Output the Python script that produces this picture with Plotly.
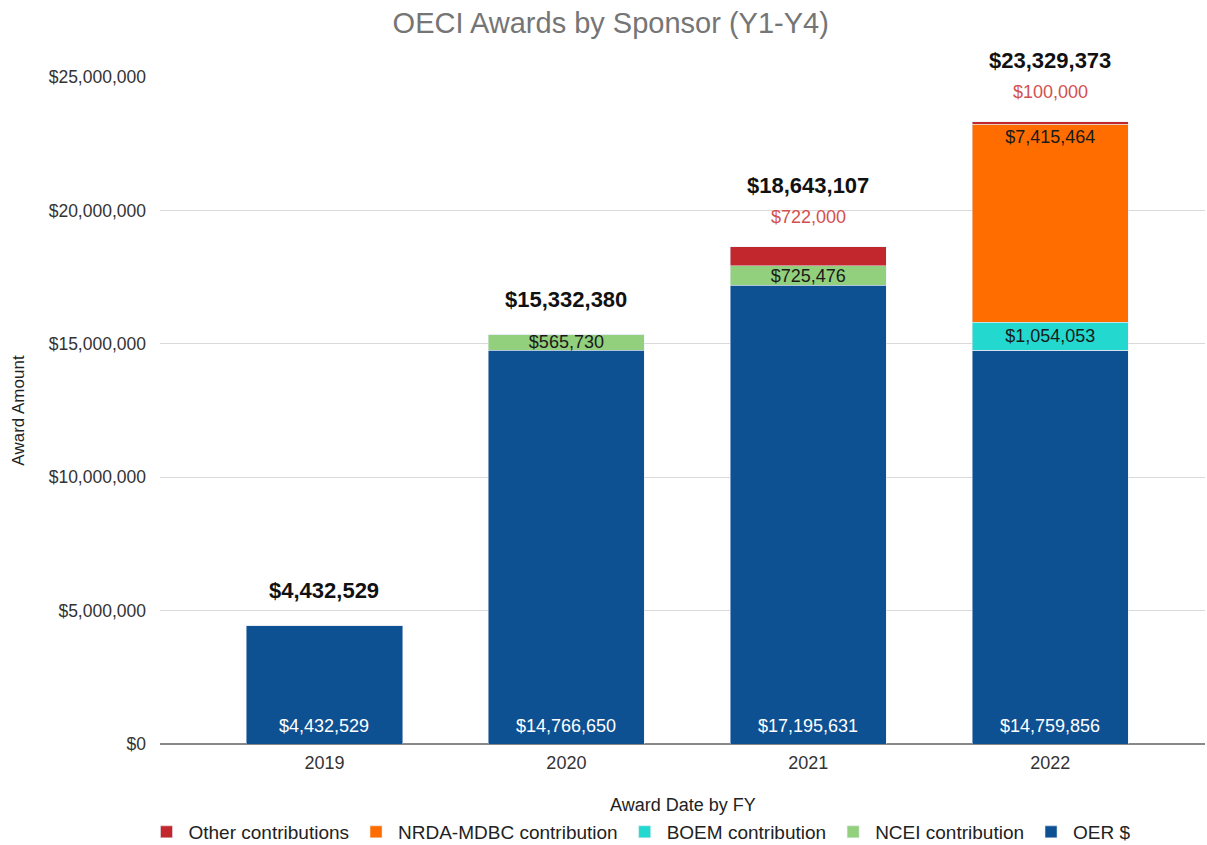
import plotly.graph_objects as go

years = ["2019", "2020", "2021", "2022"]
oer = [4432529, 14766650, 17195631, 14759856]
ncei = [0, 565730, 725476, 0]
boem = [0, 0, 0, 1054053]
nrda = [0, 0, 0, 7415464]
other = [0, 0, 722000, 100000]
totals = [4432529, 15332380, 18643107, 23329373]

FONT = "Liberation Sans, Arial, sans-serif"
C_OTHER = "#c1272d"
C_NRDA = "#ff6d01"
C_BOEM = "#23d9cf"
C_NCEI = "#93d07d"
C_OER = "#0e5192"

W, H = 1207, 845


def money(v):
    return "${:,.0f}".format(v)


def labels(vals):
    return [money(v) if v else "" for v in vals]


fig = go.Figure()
fig.add_trace(go.Bar(name="OER $", x=years, y=oer, marker_color=C_OER,
                     textposition="none"))
fig.add_trace(go.Bar(name="NCEI contribution", x=years, y=ncei, marker_color=C_NCEI,
                     text=labels(ncei), textposition="inside", insidetextanchor="middle",
                     textfont=dict(color="#1a1a1a", size=18, family=FONT),
                     constraintext="none"))
fig.add_trace(go.Bar(name="BOEM contribution", x=years, y=boem, marker_color=C_BOEM,
                     text=labels(boem), textposition="inside", insidetextanchor="middle",
                     textfont=dict(color="#1a1a1a", size=18, family=FONT),
                     constraintext="none"))
fig.add_trace(go.Bar(name="NRDA-MDBC contribution", x=years, y=nrda, marker_color=C_NRDA,
                     text=labels(nrda), textposition="inside", insidetextanchor="end",
                     textfont=dict(color="#1a1a1a", size=18, family=FONT),
                     constraintext="none"))
fig.add_trace(go.Bar(name="Other contributions", x=years, y=other, marker_color=C_OTHER,
                     textposition="none"))

annotations = []
for i, (base, tot, oth) in enumerate(zip(oer, totals, other)):
    annotations.append(dict(x=i, y=0, xref="x", yref="y", text=money(base),
                            showarrow=False, yshift=18, yanchor="middle",
                            font=dict(color="white", size=18, family=FONT)))
    if oth:
        annotations.append(dict(x=i, y=tot, xref="x", yref="y", text=money(oth),
                                showarrow=False, yshift=30, yanchor="middle",
                                font=dict(color="#d4504f", size=18, family=FONT)))
        shift = 61
    else:
        shift = 35
    annotations.append(dict(x=i, y=tot, xref="x", yref="y", text="<b>" + money(tot) + "</b>",
                            showarrow=False, yshift=shift, yanchor="middle",
                            font=dict(color="#111111", size=22, family=FONT)))

annotations.append(dict(x=0.5, y=-0.0915, xref="paper", yref="paper", text="Award Date by FY",
                        showarrow=False, yanchor="middle",
                        font=dict(color="#222222", size=18, family=FONT)))

fig.update_layout(
    barmode="stack",
    bargap=0.355,
    width=W, height=H,
    paper_bgcolor="white", plot_bgcolor="white",
    margin=dict(l=160, r=2, t=77, b=101, autoexpand=False),
    font=dict(family=FONT, color="#333333"),
    title=dict(text="OECI Awards by Sponsor (Y1-Y4)", x=0.506, xanchor="center",
               y=1 - 23 / H, yanchor="middle", font=dict(size=29, color="#757575", family=FONT)),
    xaxis=dict(range=[-0.68, 3.64], showgrid=False, ticks="", showline=False,
               automargin=False, ticklabelstandoff=6,
               tickfont=dict(size=18, color="#333333")),
    yaxis=dict(range=[0, 25000000], tickvals=[0, 5e6, 10e6, 15e6, 20e6, 25e6],
               ticktext=["$0", "$5,000,000", "$10,000,000", "$15,000,000", "$20,000,000", "$25,000,000"],
               gridcolor="#d9d9d9", gridwidth=1, zeroline=True, zerolinecolor="#888888",
               zerolinewidth=2, ticks="", automargin=False, ticklabelstandoff=13,
               tickfont=dict(size=17.5, color="#333333"),
               title=dict(text="Award Amount", font=dict(size=17, color="#222222"), standoff=19)),
    legend=dict(orientation="h", x=640 / W, xanchor="center", y=13 / H, yanchor="middle",
                xref="container", yref="container", itemwidth=34,
                traceorder="reversed", font=dict(size=19, color="#222222")),
    annotations=annotations,
)

fig.write_html("out.html", config={"displayModeBar": False},
               post_script="document.body.style.margin='0px';document.body.style.overflow='hidden';")
